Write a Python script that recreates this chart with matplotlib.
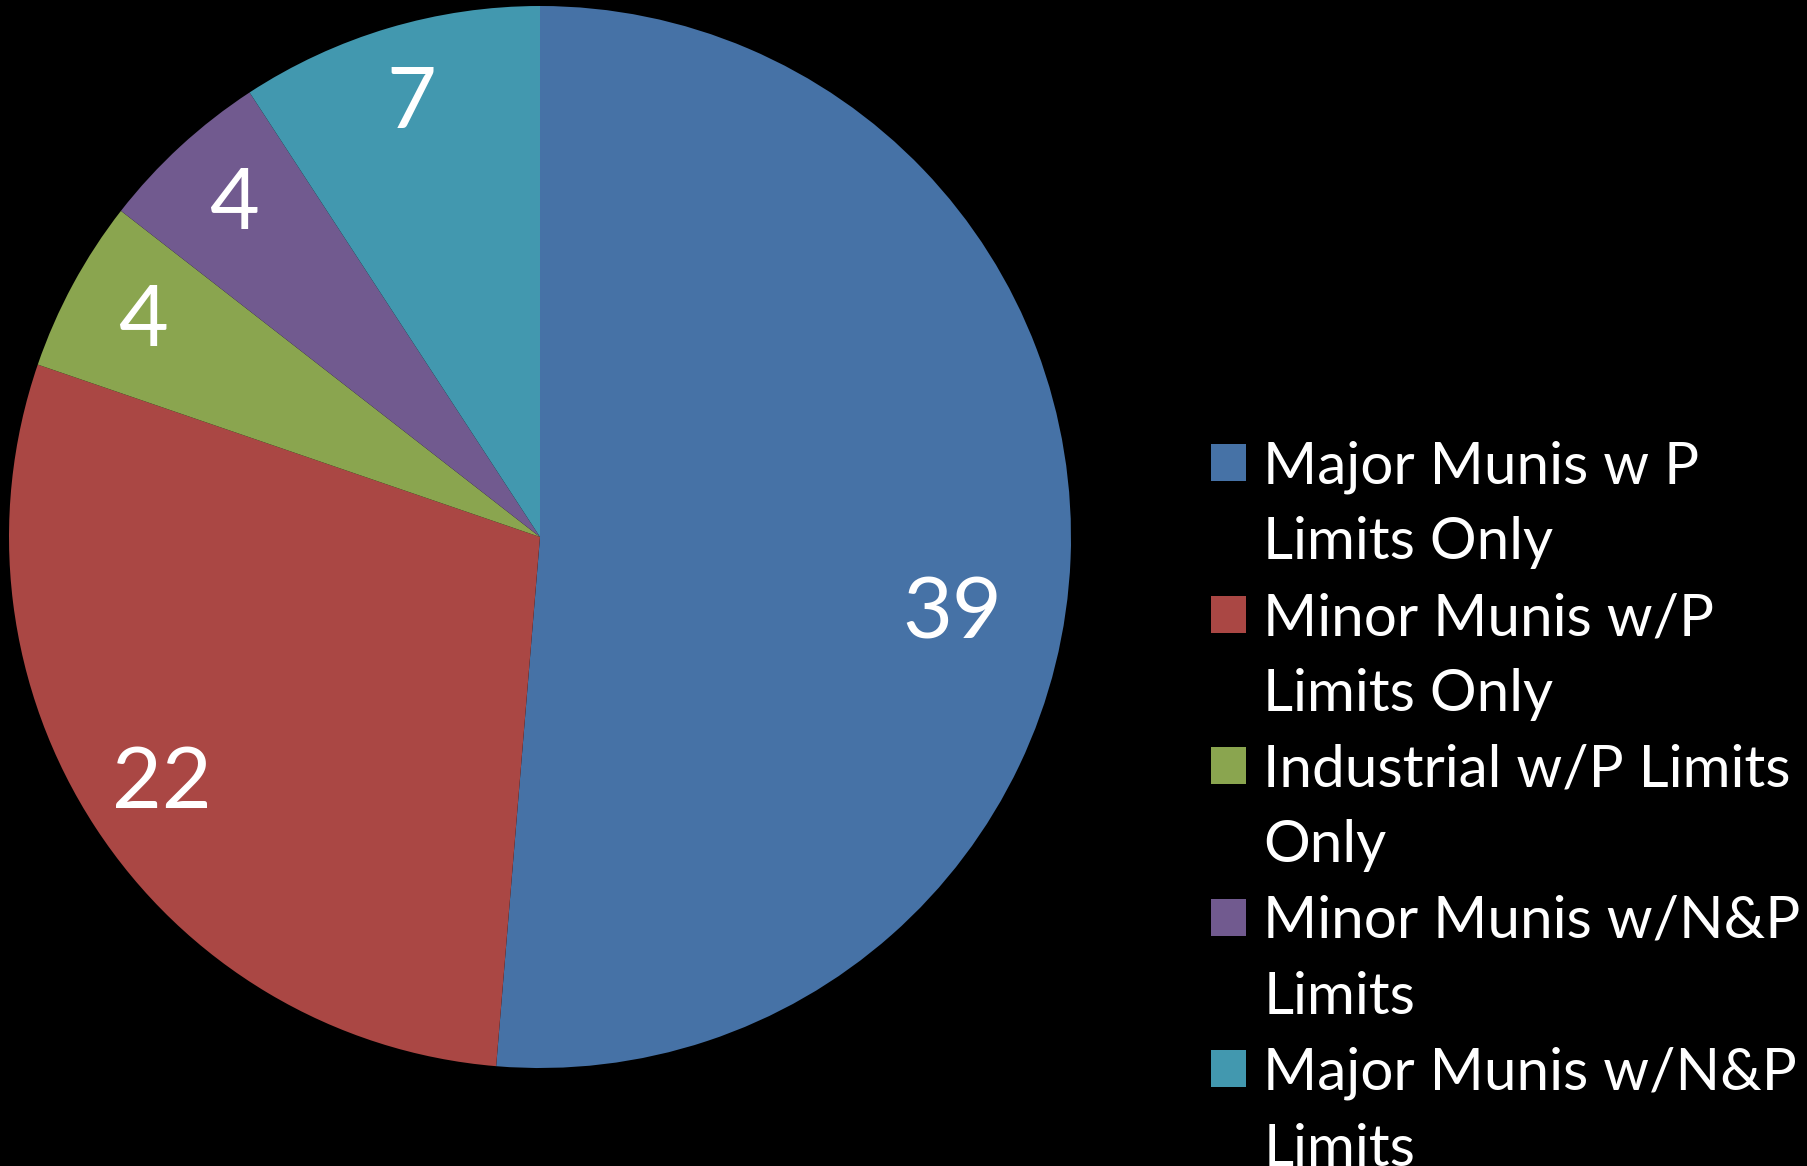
import numpy as np
import matplotlib.pyplot as plt
from matplotlib.patches import Patch

# slice data, clockwise from 12 o'clock like Excel
categories = ["Major Munis w P\nLimits Only",
              "Minor Munis w/P\nLimits Only",
              "Industrial w/P Limits\nOnly",
              "Minor Munis w/N&P\nLimits",
              "Major Munis w/N&P\nLimits"]
values = [39, 22, 4, 4, 7]
colors = ["#4672A6", "#AA4744", "#8AA54F", "#715A8F", "#4298AF"]


def main():
    plt.rcParams['font.family'] = ['Lato', 'DejaVu Sans']

    fig = plt.figure(figsize=(18.08, 11.66), dpi=100, facecolor='black')

    ax = fig.add_axes([9/1808, 98/1166, 1062/1808, 1062/1166])
    ax.set_facecolor('black')

    total = sum(values)
    wedges, texts, autotexts = ax.pie(
        values, colors=colors, startangle=90, counterclock=False,
        autopct=lambda p: f"{round(p * total / 100)}", pctdistance=0.85,
        wedgeprops=dict(linewidth=0),
        textprops=dict(color='white', fontsize=62))

    # Excel nudges the big label a bit lower
    autotexts[0].set_position((0.79 * np.cos(np.radians(-10.6)),
                               0.79 * np.sin(np.radians(-10.6))))

    ax.set_xlim(-1, 1)
    ax.set_ylim(-1, 1)
    ax.set_aspect('equal')
    ax.axis('off')

    # legend: one row per text line, swatch on the first line of each entry
    handles, labels = [], []
    for cat, col in zip(categories, colors):
        lines = cat.split("\n")
        handles.append(Patch(facecolor=col, edgecolor='none'))
        labels.append(lines[0])
        for extra in lines[1:]:
            handles.append(Patch(facecolor='none', edgecolor='none'))
            labels.append(extra)

    leg = fig.legend(handles, labels, loc='upper left',
                     bbox_to_anchor=(1211/1808, 1 - 440/1166),
                     frameon=False, fontsize=42,
                     handlelength=0.6, handleheight=0.6,
                     handletextpad=0.3, labelspacing=0.39,
                     borderpad=0, borderaxespad=0)
    for t in leg.get_texts():
        t.set_color('white')

    fig.savefig("out.png", dpi=100, facecolor='black')


if __name__ == "__main__":
    main()
